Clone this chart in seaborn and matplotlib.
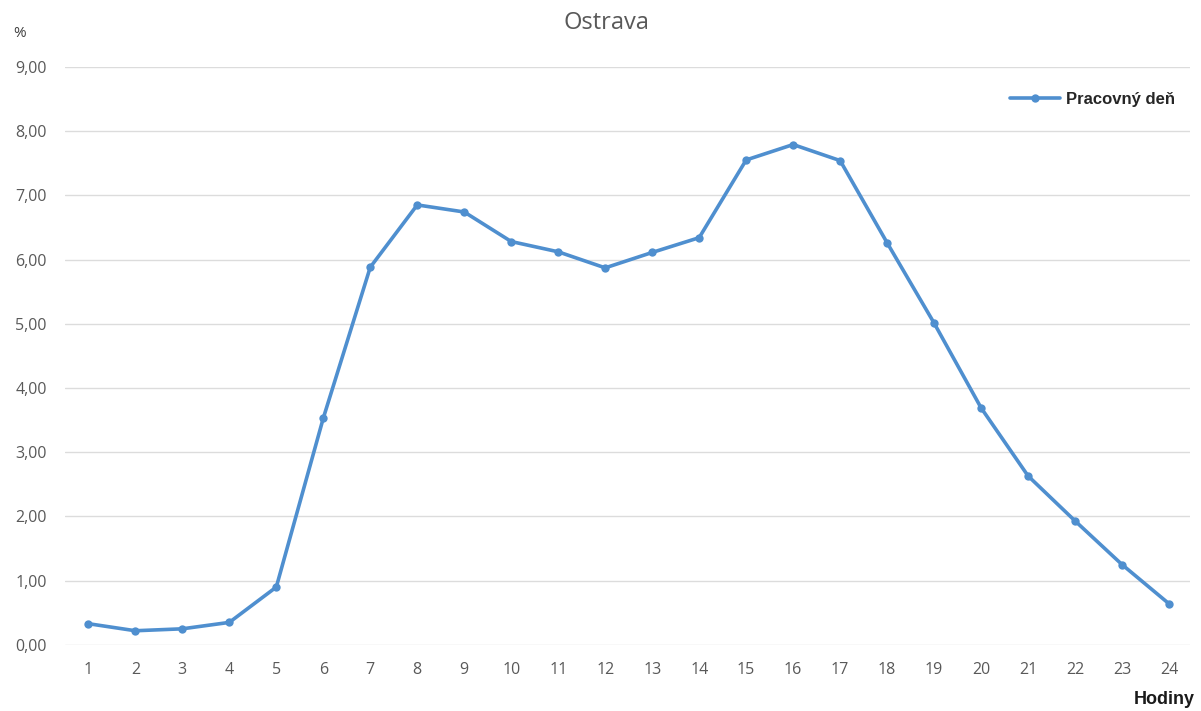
import pandas as pd
import seaborn as sns
import matplotlib.pyplot as plt
from matplotlib.ticker import FuncFormatter

# ----------------------------
# Data
# ----------------------------
hours = list(range(1, 25))
share = [0.33, 0.22, 0.25, 0.35, 0.90, 3.53, 5.88, 6.85, 6.74, 6.28, 6.12, 5.87,
         6.11, 6.34, 7.55, 7.79, 7.54, 6.26, 5.01, 3.69, 2.63, 1.93, 1.25, 0.64]
series_name = "Pracovný deň"
df = pd.DataFrame({"hour": hours, "share": share, "series": series_name})

# ----------------------------
# Plot
# ----------------------------
sns.set_theme(style="white")
plt.rcParams["font.family"] = ["Open Sans", "DejaVu Sans"]

fig = plt.figure(figsize=(12.01, 7.11), dpi=100)
ax = fig.add_axes([0.054, 0.093, 0.937, 0.813])

sns.lineplot(data=df, x="hour", y="share", hue="series", palette=["#4F8FCF"],
             marker="o", markersize=6, markeredgewidth=0, linewidth=2.6, ax=ax)

ax.set_xlim(0.5, 24.45)
ax.set_ylim(0, 9)
ax.set_xticks(hours)
ax.set_yticks(range(0, 10))
ax.yaxis.set_major_formatter(FuncFormatter(lambda v, p: f"{v:.2f}".replace(".", ",")))
ax.grid(axis="y", color="#DCDCDC", linewidth=1)
ax.set_axisbelow(True)
for s in ax.spines.values():
    s.set_visible(False)
ax.tick_params(axis="both", length=0, labelsize=11.5, labelcolor="#595959")
ax.tick_params(axis="x", pad=12)
ax.tick_params(axis="y", pad=13)
ax.set_xlabel("")
ax.set_ylabel("")

fig.text(0.505, 0.968, "Ostrava", ha="center", va="center", fontsize=17, color="#595959")
fig.text(0.011, 0.953, "%", ha="left", va="center", fontsize=11, color="#404040")
fig.text(0.995, 0.016, "Hodiny", ha="right", va="center", fontsize=13, fontweight="bold",
         color="#1a1a1a", family=["Liberation Sans", "DejaVu Sans"])

leg = ax.legend(loc="upper right", bbox_to_anchor=(1.0, 0.983), frameon=False,
                handlelength=3.0, handletextpad=0.4,
                prop={"family": ["Liberation Sans Narrow", "Liberation Sans"],
                      "weight": "bold", "size": 12})

fig.savefig("out.png", dpi=100)
plt.close()
